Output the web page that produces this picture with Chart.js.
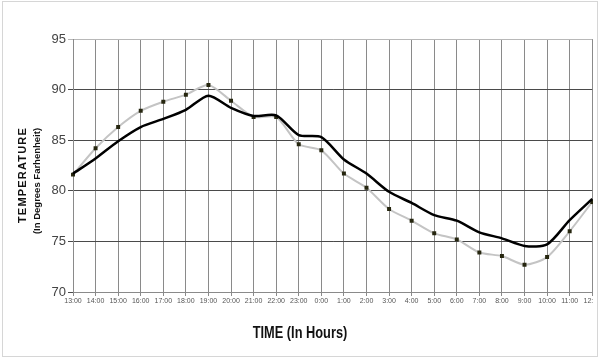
<!DOCTYPE html>
<html>
<head>
<meta charset="utf-8">
<script src="https://cdn.jsdelivr.net/npm/chart.js@4.4.1/dist/chart.umd.min.js"></script>
<style>
  html, body { margin: 0; padding: 0; background: #fff; overflow: hidden; }
  #wrap { position: relative; width: 602px; height: 359px; }
</style>
</head>
<body>
<div id="wrap"><canvas id="myChart" width="602" height="359"></canvas></div>
<script>
// hourly readings, 13:00 through 12:00 next day
var hours = ["13:00","14:00","15:00","16:00","17:00","18:00","19:00","20:00","21:00","22:00","23:00",
  "0:00","1:00","2:00","3:00","4:00","5:00","6:00","7:00","8:00","9:00","10:00","11:00","12:00"];
var markedTemps = [81.6, 84.2, 86.3, 87.9, 88.8, 89.5, 90.45, 88.9, 87.3, 87.3, 84.6,
  84.0, 81.7, 80.3, 78.2, 77.05, 75.8, 75.2, 73.9, 73.55, 72.7, 73.45, 76.0, 78.9];
var solidTemps = [81.7, 83.2, 84.9, 86.3, 87.1, 88.0, 89.4, 88.2, 87.4, 87.45, 85.5,
  85.3, 83.1, 81.7, 79.9, 78.8, 77.6, 77.05, 75.9, 75.3, 74.55, 74.7, 77.1, 79.2];
var yTicks = [70, 75, 80, 85, 90, 95];

var FONT = "'Liberation Sans', Arial, sans-serif";

// axis titles (y in two lines, x squeezed) plus the cropped frame on the right
var framePlugin = {
  id: "frame",
  afterDraw: function(chart) {
    var ctx = chart.ctx;
    ctx.save();
    ctx.fillStyle = "#fff";
    ctx.fillRect(593, 0, 9, 359);
    ctx.fillStyle = "#111";
    ctx.textAlign = "center";
    ctx.textBaseline = "middle";

    ctx.save();
    ctx.translate(23, 175);
    ctx.rotate(-Math.PI / 2);
    ctx.font = "bold 11px " + FONT;
    ctx.letterSpacing = "1.2px";
    ctx.fillText("TEMPERATURE", 0, 0);
    ctx.restore();

    ctx.save();
    ctx.translate(37, 181);
    ctx.rotate(-Math.PI / 2);
    ctx.font = "bold 9.5px " + FONT;
    ctx.fillText("(In Degrees Farhenheit)", 0, 0);
    ctx.restore();

    ctx.save();
    ctx.translate(300, 334);
    ctx.scale(0.8, 1);
    ctx.font = "bold 16px " + FONT;
    ctx.fillText("TIME (In Hours)", 0, 0);
    ctx.restore();

    ctx.strokeStyle = "#d6d6d6";
    ctx.lineWidth = 1;
    ctx.strokeRect(2.5, 1.5, 595, 355);
    ctx.restore();
  }
};

new Chart("myChart", {
  type: "line",
  data: {
    labels: hours,
    datasets: [{
      data: solidTemps,
      borderColor: "#000",
      borderWidth: 2.5,
      pointRadius: 0,
      tension: 0.25,
      order: 0
    }, {
      data: markedTemps,
      borderColor: "#c4c4c4",
      borderWidth: 2,
      pointStyle: "rect",
      pointRadius: 2.8,
      pointBackgroundColor: "#26260f",
      pointBorderColor: "#26260f",
      pointBorderWidth: 0,
      tension: 0.25,
      order: 1
    }]
  },
  options: {
    responsive: false,
    animation: false,
    layout: { padding: { top: 39, right: 6, left: 0, bottom: 0 } },
    plugins: { legend: { display: false }, tooltip: { enabled: false } },
    scales: {
      x: {
        offset: false,
        grid: { color: "#8a8a8a", lineWidth: 1, tickLength: 4 },
        border: { color: "#8a8a8a" },
        ticks: {
          autoSkip: false, maxRotation: 0, padding: 1,
          color: "#555", font: { family: FONT, size: 7 }
        },
        title: { display: false, text: "TIME (In Hours)" },
        afterFit: function(scale) { scale.height = 67; }
      },
      y: {
        min: 70, max: 95,
        afterBuildTicks: function(scale) {
          scale.ticks = yTicks.map(function(v) { return { value: v }; });
        },
        grid: {
          tickLength: 5,
          color: function(c) { return c.tick && c.tick.value === 95 ? "#b8b8b8" : "#4a4a4a"; }
        },
        border: { color: "#8a8a8a" },
        ticks: { padding: 2, color: "#444", font: { family: FONT, size: 13 } },
        afterFit: function(scale) { scale.width = 73; }
      }
    }
  },
  plugins: [framePlugin]
});
</script>
</body>
</html>
